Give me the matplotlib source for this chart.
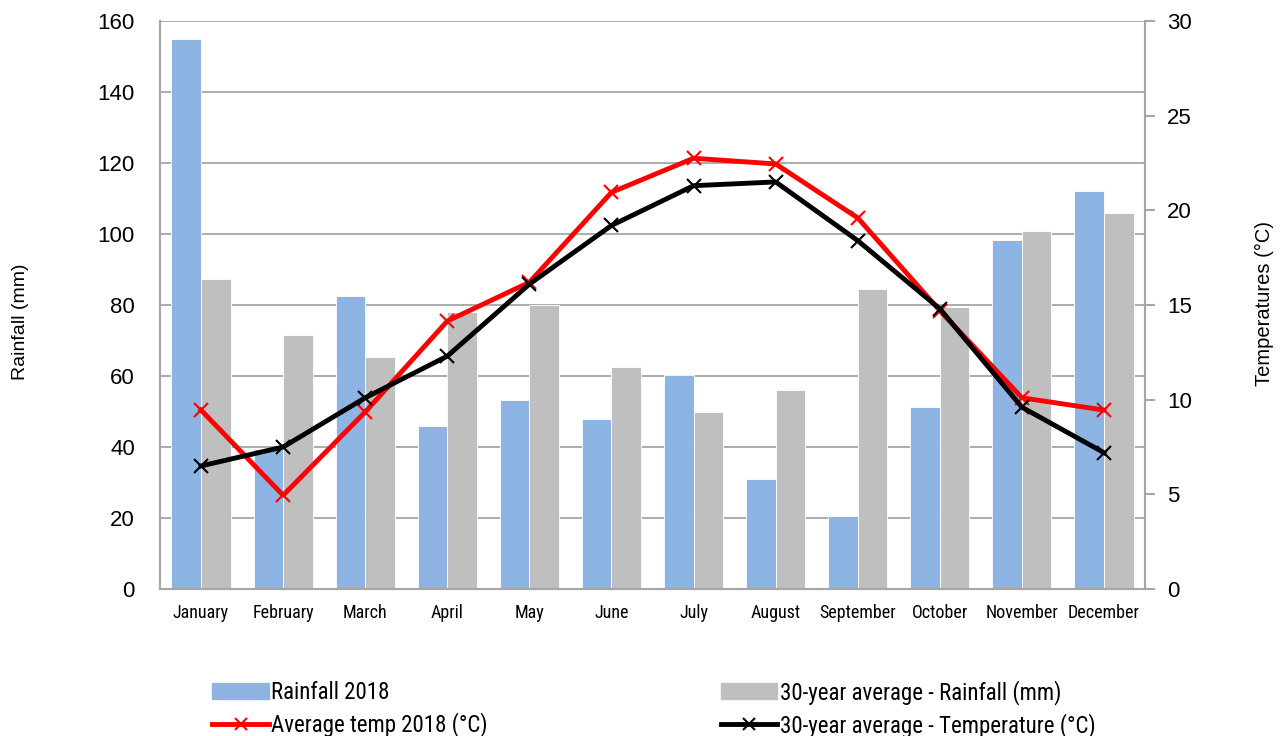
import numpy as np
import matplotlib.pyplot as plt
from matplotlib.lines import Line2D
from matplotlib.patches import Patch
from matplotlib import font_manager

# valores
months = ['January', 'February', 'March', 'April', 'May', 'June', 'July',
          'August', 'September', 'October', 'November', 'December']
rain_2018 = [155, 39.5, 82.5, 46, 53.3, 48, 60.4, 31, 20.6, 51.4, 98.4, 112]
rain_30yr = [87.2, 71.6, 65.3, 78, 80, 62.5, 49.8, 56, 84.4, 79.3, 100.9, 106]
temp_2018 = [9.45, 4.95, 9.35, 14.15, 16.2, 20.95, 22.75, 22.45, 19.6, 14.7, 10.1, 9.45]
temp_30yr = [6.5, 7.5, 10.1, 12.3, 16.1, 19.2, 21.3, 21.5, 18.4, 14.8, 9.6, 7.2]

# procura uma fonte estreita instalada
names = {f.name for f in font_manager.fontManager.ttflist}
narrow = [n for n in ['Roboto Condensed', 'Open Sans Condensed', 'Liberation Sans Narrow',
                      'DejaVu Sans Condensed'] if n in names] + ['DejaVu Sans']
plt.rcParams['font.family'] = ['Liberation Sans', 'DejaVu Sans']

fig = plt.figure(figsize=(12.84, 7.36), dpi=100)
ax = fig.add_axes([0.1246, 0.1997, 0.7672, 0.7718])
ax2 = ax.twinx()

x = np.arange(len(months))
w = 0.36
ax.bar(x - w / 2, rain_2018, w, color='#8EB4E3', edgecolor='white', linewidth=0.6, zorder=2)
ax.bar(x + w / 2, rain_30yr, w, color='#BFBFBF', edgecolor='white', linewidth=0.6, zorder=2)

ax2.plot(x, temp_2018, color='#FF0000', lw=3.5, marker='x', ms=10, mew=1.5)
ax2.plot(x, temp_30yr, color='black', lw=3.5, marker='x', ms=10, mew=1.5)

ax.set_xlim(-0.5, 11.5)
ax.set_ylim(0, 160)
ax.set_yticks(range(0, 161, 20))
ax2.set_ylim(0, 30)
ax2.set_yticks(range(0, 31, 5))

ax.grid(axis='y', color='#A6A6A6', lw=1.3, zorder=0)
ax.set_axisbelow(True)
for a in (ax, ax2):
    a.spines['top'].set_visible(False)
    for s in ('left', 'right', 'bottom'):
        a.spines[s].set_color('#A6A6A6')
        a.spines[s].set_linewidth(1.5)

ax.set_xticks(x)
ax.set_xticklabels(months, family=narrow, stretch='condensed', fontsize=13)
ax.tick_params(axis='x', length=0, pad=11)
ax.tick_params(axis='y', labelsize=16, length=0, pad=18)
ax2.tick_params(axis='y', labelsize=16, length=7, color='#A6A6A6', width=1.5, pad=9)

fig.text(0.016, 0.5625, 'Rainfall (mm)', rotation=90, ha='center', va='center', fontsize=14)
fig.text(0.985, 0.588, 'Temperatures (°C)', rotation=90, ha='center', va='center', fontsize=14.5)

handles = [
    Patch(color='#8EB4E3', label='Rainfall 2018'),
    Line2D([], [], color='#FF0000', lw=3.5, marker='x', ms=9, mew=1.5, label='Average temp 2018 (°C)'),
    Patch(color='#BFBFBF', label='30-year average - Rainfall (mm)'),
    Line2D([], [], color='black', lw=3.5, marker='x', ms=9, mew=1.5, label='30-year average - Temperature (°C)'),
]
fig.legend(handles=handles, ncol=2, loc='lower left', bbox_to_anchor=(0.153, -0.024),
           frameon=False, prop={'family': narrow, 'stretch': 'condensed', 'size': 16.5},
           handlelength=2.45, handletextpad=0.1, columnspacing=10.2, labelspacing=0.35,
           borderpad=0.2)

fig.savefig('out.png', dpi=100)
